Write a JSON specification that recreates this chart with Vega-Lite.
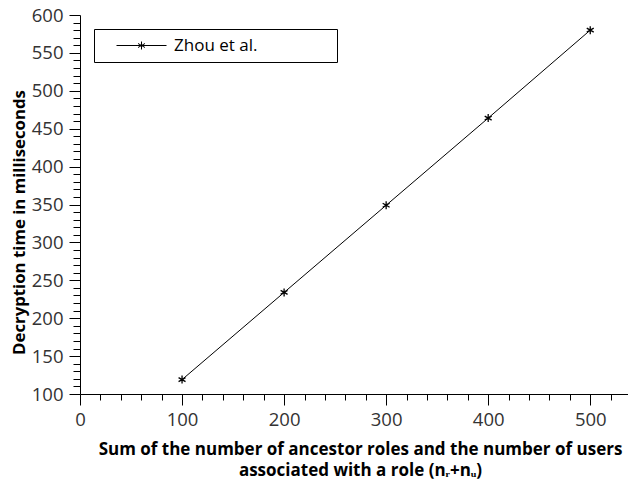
{
  "$schema": "https://vega.github.io/schema/vega-lite/v6.json",
  "width": 548,
  "height": 379,
  "autosize": {"type": "none"},
  "padding": {"left": 80, "top": 15, "right": 0, "bottom": 86},
  "background": "white",
  "config": {
    "view": {"stroke": null},
    "font": "Open Sans",
    "axis": {
      "grid": false,
      "domainColor": "black",
      "tickColor": "black",
      "labelFont": "Open Sans",
      "labelFontSize": 18.5,
      "labelColor": "#333333",
      "labelFlush": false,
      "titleFont": "Open Sans",
      "titleFontSize": 17,
      "titleFontWeight": "bold",
      "titleColor": "black"
    }
  },
  "data": {
    "values": [
      {"n": 100, "t": 119, "series": "Zhou et al."},
      {"n": 200, "t": 234, "series": "Zhou et al."},
      {"n": 300, "t": 349, "series": "Zhou et al."},
      {"n": 400, "t": 464, "series": "Zhou et al."},
      {"n": 500, "t": 580, "series": "Zhou et al."}
    ]
  },
  "layer": [
    {
      "mark": {"type": "line", "strokeWidth": 1},
      "encoding": {
        "x": {
          "field": "n",
          "type": "quantitative",
          "scale": {"domain": [0, 537], "nice": false, "zero": false},
          "axis": {
            "orient": "bottom",
            "values": [0, 100, 200, 300, 400, 500],
            "tickSize": 11,
            "labelPadding": 5,
            "title": ["Sum of the number of ancestor roles and the number of users", "associated with a role (nᵣ+nᵤ)"],
            "titlePadding": 13,
            "titleLineHeight": 21,
            "titleX": 280
          }
        },
        "y": {
          "field": "t",
          "type": "quantitative",
          "scale": {"domain": [100, 600], "nice": false, "zero": false},
          "axis": {
            "orient": "left",
            "values": [100, 150, 200, 250, 300, 350, 400, 450, 500, 550, 600],
            "tickSize": 11,
            "labelPadding": 6,
            "title": "Decryption time in milliseconds",
            "titleFontSize": 16.8,
            "titlePadding": 3,
            "titleY": 207
          }
        },
        "color": {
          "field": "series",
          "type": "nominal",
          "scale": {"range": ["black"]},
          "legend": {
            "title": null,
            "orient": "top-left",
            "offset": 14,
            "padding": 8,
            "strokeColor": "black",
            "fillColor": "white",
            "symbolType": "M1.2,0L11.2,0M6.2,-0.8L6.2,0.8M5.5,-0.4L6.9,0.4M5.5,0.4L6.9,-0.4",
            "symbolSize": 100,
            "symbolStrokeWidth": 1,
            "labelFontSize": 17,
            "labelFont": "Open Sans",
            "labelColor": "black",
            "labelOffset": 55,
            "labelLimit": 400,
            "labelExpr": "datum.label + '\u00a0\u00a0\u00a0\u00a0\u00a0\u00a0\u00a0\u00a0\u00a0\u00a0\u00a0\u00a0\u00a0\u00a0\u00a0\u00a0\u200b'"
          }
        }
      }
    },
    {
      "mark": {
        "type": "point",
        "shape": "M0,-1L0,1M-0.87,-0.5L0.87,0.5M-0.87,0.5L0.87,-0.5",
        "size": 64,
        "filled": false,
        "stroke": "black",
        "strokeWidth": 1.3,
        "opacity": 1
      },
      "encoding": {
        "x": {
          "field": "n",
          "type": "quantitative",
          "axis": {
            "orient": "bottom",
            "values": [20, 40, 60, 80, 120, 140, 160, 180, 220, 240, 260, 280, 320, 340, 360, 380, 420, 440, 460, 480, 520],
            "tickSize": 6,
            "labels": false,
            "domain": false,
            "title": null
          }
        },
        "y": {
          "field": "t",
          "type": "quantitative",
          "axis": {
            "orient": "left",
            "values": [110, 120, 130, 140, 160, 170, 180, 190, 210, 220, 230, 240, 260, 270, 280, 290, 310, 320, 330, 340, 360, 370, 380, 390, 410, 420, 430, 440, 460, 470, 480, 490, 510, 520, 530, 540, 560, 570, 580, 590],
            "tickSize": 7,
            "labels": false,
            "domain": false,
            "title": null
          }
        }
      }
    }
  ],
  "resolve": {"axis": {"x": "independent", "y": "independent"}}
}
